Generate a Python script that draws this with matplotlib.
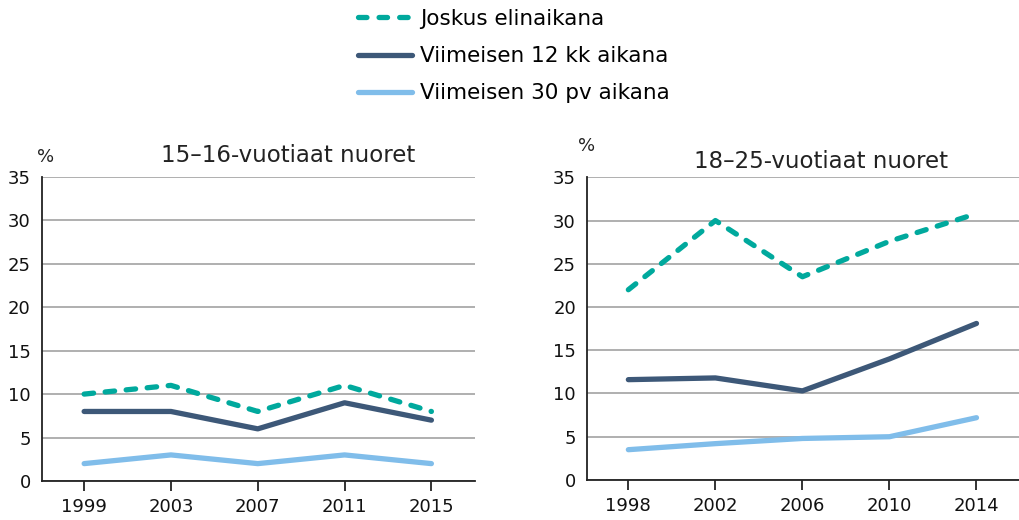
import numpy as np
import matplotlib.pyplot as plt
from matplotlib.lines import Line2D

plt.rcParams["font.family"] = ["DejaVu Sans"]

# Data
years_a = [1999, 2003, 2007, 2011, 2015]
joskus_a = [10, 11, 8, 11, 8]
kk12_a = [8, 8, 6, 9, 7]
pv30_a = [2, 3, 2, 3, 2]

years_b = [1998, 2002, 2006, 2010, 2014]
joskus_b = [22, 30, 23.5, 27.6, 30.8]
kk12_b = [11.6, 11.8, 10.3, 14.0, 18.1]
pv30_b = [3.5, 4.2, 4.8, 5.0, 7.2]

labels = ["Joskus elinaikana", "Viimeisen 12 kk aikana", "Viimeisen 30 pv aikana"]
titles = ["15\u201316-vuotiaat nuoret", "18\u201325-vuotiaat nuoret"]
yticks = [0, 5, 10, 15, 20, 25, 30, 35]

c_teal = "#00a99d"
c_dark = "#3d5878"
c_light = "#80bdea"
lw = 3.8

fig = plt.figure(figsize=(10.2, 5.2), dpi=100)
ax1 = fig.add_axes([0.041, 0.075, 0.4245, 0.585])
ax2 = fig.add_axes([0.5755, 0.077, 0.4245, 0.582])


def draw(ax, years, jos, kk, pv, title, xlim, title_x, title_y, pct_x, pct_y):
    ax.set_axisbelow(True)
    ax.plot(years, jos, color=c_teal, lw=lw, dashes=(1.8, 2.2), dash_capstyle="round")
    ax.plot(years, kk, color=c_dark, lw=lw, solid_capstyle="round", solid_joinstyle="round")
    ax.plot(years, pv, color=c_light, lw=lw, solid_capstyle="round", solid_joinstyle="round")
    ax.set_xlim(*xlim)
    ax.set_ylim(0, 35)
    ax.set_yticks(yticks)
    ax.set_xticks(years)
    ax.yaxis.grid(True, color="#9a9a9a", lw=1.1)
    for s in ["top", "right"]:
        ax.spines[s].set_visible(False)
    for s in ["left", "bottom"]:
        ax.spines[s].set_color("#222222")
        ax.spines[s].set_linewidth(1.3)
    ax.tick_params(axis="y", length=0, pad=8, labelsize=13, colors="#111111")
    ax.tick_params(axis="x", length=7, width=1.2, direction="out", pad=5,
                   labelsize=13, colors="#111111")
    ax.text(title_x, title_y, title, transform=ax.transAxes, ha="center",
            va="baseline", fontsize=16.5, color="#222222")
    ax.text(pct_x, pct_y, "%", transform=ax.transAxes, ha="center",
            va="baseline", fontsize=13, color="#222222")


draw(ax1, years_a, joskus_a, kk12_a, pv30_a, titles[0], (1997.05, 2017.0),
     0.568, 1.049, 0.009, 1.049)
draw(ax2, years_b, joskus_b, kk12_b, pv30_b, titles[1], (1996.1, 2016.0),
     0.54, 1.031, 0.0, 1.086)

handles = [
    Line2D([], [], color=c_teal, lw=lw, dashes=(1.6, 2.3), dash_capstyle="round"),
    Line2D([], [], color=c_dark, lw=lw, solid_capstyle="round"),
    Line2D([], [], color=c_light, lw=lw, solid_capstyle="round"),
]
fig.legend(handles, labels, loc="upper left", bbox_to_anchor=(0.332, 1.02),
           frameon=False, fontsize=15.5, handlelength=2.5, handletextpad=0.37,
           labelspacing=0.8)

fig.savefig("out.png", dpi=100)
